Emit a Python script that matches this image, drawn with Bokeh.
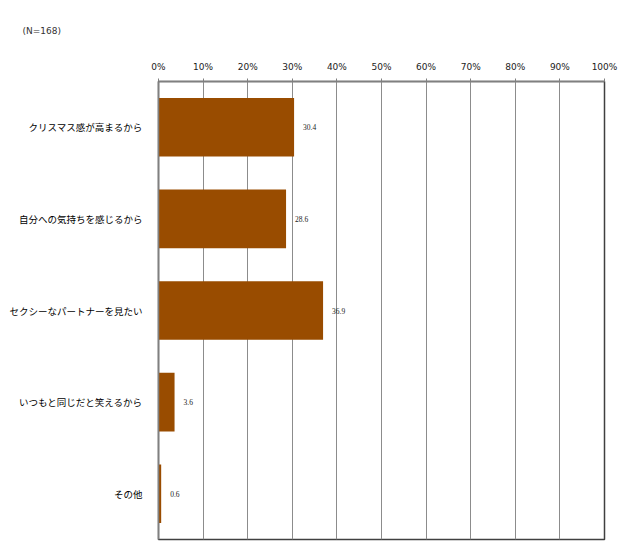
from bokeh.plotting import figure
from bokeh.models import ColumnDataSource, FactorRange, FixedTicker, LabelSet
from bokeh.embed import file_html
from bokeh.resources import INLINE

categories = ["クリスマス感が高まるから", "自分への気持ちを感じるから", "セクシーなパートナーを見たい",
              "いつもと同じだと笑えるから", "その他"]
values = [30.4, 28.6, 36.9, 3.6, 0.6]
value_labels = ["30.4", "28.6", "36.9", "3.6", "0.6"]
x_ticks = [0, 10, 20, 30, 40, 50, 60, 70, 80, 90, 100]
x_tick_labels = [f"{t}%" for t in x_ticks]
note = "(N=168)"

W, H = 632, 543

src = ColumnDataSource(dict(cat=categories, val=values, lab=value_labels))

p = figure(width=W, height=H, output_backend="svg", toolbar_location=None,
           y_range=FactorRange(factors=list(reversed(categories))),
           x_range=(0, 100), x_axis_location="above",
           min_border_left=158, min_border_right=W - 604, min_border_top=81,
           min_border_bottom=H - 539)

p.hbar(y="cat", right="val", left=0, height=0.64, source=src,
       fill_color="#994C00", line_color=None)

p.add_layout(LabelSet(x="val", y="cat", text="lab", source=src, x_offset=9,
                      text_baseline="middle", text_font_size="7.5px",
                      text_font="DejaVu Sans", text_color="#222222"))

xa = p.xaxis[0]
xa.ticker = FixedTicker(ticks=x_ticks)
xa.major_label_overrides = {t: l for t, l in zip(x_ticks, x_tick_labels)}
xa.major_label_text_font = "DejaVu Sans"
xa.major_label_text_font_size = "9px"
xa.major_label_text_color = "#222222"
xa.axis_line_color = "#808080"
xa.axis_line_width = 1.5
xa.major_tick_line_color = "#808080"
xa.major_tick_out = 3
xa.major_tick_in = 0
xa.minor_tick_line_color = None
xa.major_label_standoff = 7

ya = p.yaxis[0]
ya.major_label_text_font = "Noto Sans CJK JP"
ya.major_label_text_font_size = "9.5px"
ya.major_label_text_color = "#000000"
ya.axis_line_color = "#808080"
ya.axis_line_width = 1.5
ya.major_tick_line_color = None
ya.major_label_standoff = 10

p.xgrid.grid_line_color = "#8c8c8c"
p.xgrid.grid_line_width = 1
p.xgrid.ticker = FixedTicker(ticks=x_ticks)
p.ygrid.grid_line_color = None

p.outline_line_color = "#404040"
p.outline_line_width = 1.5

p.title.text = note
p.title.align = "left"
p.title.vertical_align = "top"
p.title.offset = 22 - 158
p.title.standoff = 42
p.title.text_font = "DejaVu Sans"
p.title.text_font_size = "9px"
p.title.text_font_style = "normal"
p.title.text_color = "#333333"

open("out.html", "w").write(file_html(p, INLINE))
